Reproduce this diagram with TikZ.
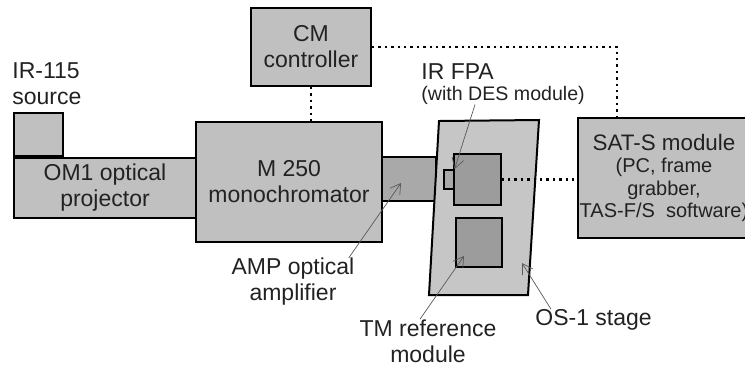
\documentclass[tikz,border=0pt]{standalone}
\usepackage{fontspec}
\setmainfont{Liberation Sans}
\usetikzlibrary{arrows.meta}
\definecolor{unitgray}{HTML}{C0C0C0}
\definecolor{stagegray}{HTML}{C6C6C6}
\definecolor{ampgray}{HTML}{A9A9A9}
\definecolor{fpagray}{HTML}{9C9C9C}
\definecolor{textgray}{HTML}{222222}
\tikzset{
  unit/.style={draw, line width=1pt, fill=unitgray, inner sep=0pt, anchor=north west,
    align=center, text=textgray, font=\fontsize{11.5}{13}\selectfont},
  part/.style={draw, line width=0.8pt, fill=fpagray, inner sep=0pt, anchor=north west},
  lbl/.style={inner sep=0pt, align=center, text=textgray, font=\fontsize{11.5}{13}\selectfont},
  link/.style={line width=1.2pt, dotted},
  pointer/.style={black!65, line width=0.35pt, -{Straight Barb[length=5pt,width=6pt]}},
}
\begin{document}
\begin{tikzpicture}[x=0.5pt, y=-0.5pt]
  \useasboundingbox (0,0) rectangle (745,365);

  % source, projector and monochromator
  \node[unit, minimum width=91pt, minimum height=30pt] (om1) at (13,157) {OM1 optical\\projector};
  \node[unit, minimum width=24.5pt, minimum height=21.5pt] (src) at (13,112) {};
  \node[lbl, anchor=west, align=left] (srcl) at (12,84) {IR-115\\source};
  \node[unit, minimum width=93pt, minimum height=60pt] (mono) at (195,121) {M 250\\monochromator};
  \node[unit, minimum width=60pt, minimum height=39pt] (cm) at (250,7) {CM\\controller};
  \node[unit, fill=ampgray, minimum width=27pt, minimum height=22pt] (amp) at (381,156) {};

  % OS-1 stage with the two modules
  \coordinate (s1) at (439,121);
  \coordinate (s2) at (539,120);
  \coordinate (s3) at (528,295);
  \coordinate (s4) at (429,295);
  \draw[line width=1pt, fill=stagegray] (s1) -- (s2) -- (s3) -- (s4) -- cycle;
  \node[part, minimum width=23.5pt, minimum height=25.5pt] (fpa) at (453,153) {};
  \node[part, fill=ampgray, minimum width=5pt, minimum height=9.5pt] (des) at (443,169) {};
  \node[part, minimum width=23pt, minimum height=24.5pt] (tm) at (455,217) {};

  % SAT-S module
  \node[unit, minimum width=86pt, minimum height=60pt, font=\fontsize{10}{11.2}\selectfont] (sat) at (577,117)
    {{\fontsize{11.2}{11.2}\selectfont SAT-S module}\\(PC, frame\\grabber,\\TAS-F/S\ \ software)};

  % dotted links
  \coordinate (satin) at (617,117);
  \draw[link] (cm.south) -- (cm.south |- mono.north);
  \draw[link] (cm.east) -| (satin);
  \draw[link] (fpa.east) -- (fpa.east -| sat.west);

  % labels and pointers
  \node[lbl, anchor=west] (fpal) at (421,72) {IR FPA};
  \node[lbl, anchor=west, font=\fontsize{9.8}{11}\selectfont] (desl) at (421,95) {(with DES module)};
  \node[lbl] (ampl) at (293,282) {AMP optical\\amplifier};
  \node[lbl] (tml) at (428,341) {TM reference\\module};
  \node[lbl, anchor=west] (osl) at (535,320) {OS-1 stage};
  \coordinate (amptip) at (401,183);
  \coordinate (tmtip) at (464,256);
  \coordinate (stagetip) at (522,263);
  \draw[pointer] ([xshift=27pt]desl.south west) -- (des.north east);
  \draw[pointer] ([xshift=-3pt]ampl.north east) -- (amptip);
  \draw[pointer] ([xshift=-4pt]tml.north) -- (tmtip);
  \draw[pointer] ([xshift=8pt]osl.north west) -- (stagetip);
\end{tikzpicture}
\end{document}
